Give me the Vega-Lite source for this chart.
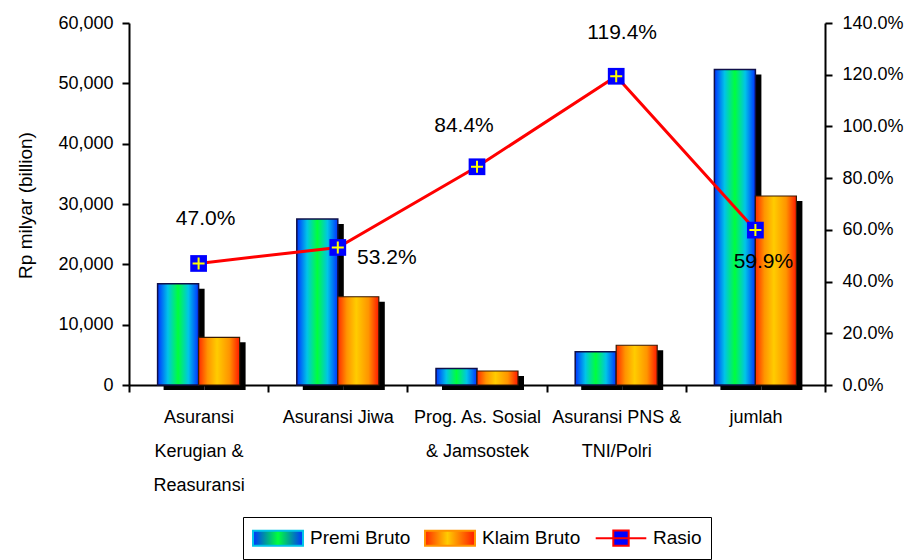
{
  "$schema": "https://vega.github.io/schema/vega-lite/v6.json",
  "autosize": {"type": "none"},
  "padding": {"left": 129, "top": 23, "right": 91, "bottom": 175},
  "width": 696,
  "height": 362,
  "background": "white",
  "config": {
    "view": {"stroke": null},
    "font": "Liberation Sans",
    "axis": {
      "labelFont": "Liberation Sans",
      "titleFont": "Liberation Sans",
      "labelColor": "black",
      "titleColor": "black",
      "domainColor": "black",
      "tickColor": "black",
      "domainWidth": 2,
      "tickWidth": 2,
      "tickSize": 7,
      "grid": false,
      "labelFontSize": 18,
      "titleFontSize": 19,
      "titleFontWeight": "normal"
    }
  },
  "data": {
    "values": [
      {"kategori": "Asuransi Kerugian & Reasuransi", "premi": 16800, "klaim": 7900, "rasio": 0.470},
      {"kategori": "Asuransi Jiwa", "premi": 27500, "klaim": 14630, "rasio": 0.532},
      {"kategori": "Prog. As. Sosial & Jamsostek", "premi": 2750, "klaim": 2320, "rasio": 0.844},
      {"kategori": "Asuransi PNS & TNI/Polri", "premi": 5520, "klaim": 6590, "rasio": 1.194},
      {"kategori": "jumlah", "premi": 52300, "klaim": 31330, "rasio": 0.599}
    ]
  },
  "layer": [
    {
      "encoding": {
        "x": {
          "field": "kategori",
          "type": "nominal",
          "sort": null,
          "scale": {"type": "band", "paddingInner": 0, "paddingOuter": 0},
          "axis": {
            "title": null,
            "labelAngle": 0,
            "tickBand": "extent",
            "labelBaseline": "top",
            "labelPadding": 16,
            "labelLineHeight": 34,
            "labelLimit": 0,
            "labelExpr": "datum.value == 'Asuransi Kerugian & Reasuransi' ? ['Asuransi', 'Kerugian &', 'Reasuransi'] : datum.value == 'Prog. As. Sosial & Jamsostek' ? ['Prog. As. Sosial', '& Jamsostek'] : datum.value == 'Asuransi PNS & TNI/Polri' ? ['Asuransi PNS &', 'TNI/Polri'] : datum.value"
          }
        }
      },
      "layer": [
        {
          "mark": {"type": "bar", "width": 41, "xOffset": -14.5, "yOffset": 5, "color": "black"},
          "encoding": {
            "y": {
              "field": "premi",
              "type": "quantitative",
              "scale": {"domain": [0, 60000], "nice": false},
              "axis": {
                "title": "Rp milyar (billion)",
                "values": [0, 10000, 20000, 30000, 40000, 50000, 60000],
                "format": ",.0f",
                "titleX": -94,
                "titleY": 182,
                "labelPadding": 9
              }
            }
          }
        },
        {
          "mark": {"type": "bar", "width": 41, "xOffset": 26.5, "yOffset": 5, "color": "black"},
          "encoding": {"y": {"field": "klaim", "type": "quantitative"}}
        },
        {
          "mark": {
            "type": "bar",
            "width": 41,
            "xOffset": -20.5,
            "stroke": "#10104a",
            "strokeWidth": 1.5,
            "fill": {
              "gradient": "linear",
              "x1": 0, "x2": 1, "y1": 0, "y2": 0,
              "stops": [
                {"offset": 0, "color": "#0033ff"},
                {"offset": 0.25, "color": "#00c4e8"},
                {"offset": 0.5, "color": "#00ff3c"},
                {"offset": 0.75, "color": "#00c4e8"},
                {"offset": 1, "color": "#0033ff"}
              ]
            }
          },
          "encoding": {"y": {"field": "premi", "type": "quantitative"}}
        },
        {
          "mark": {
            "type": "bar",
            "width": 41,
            "xOffset": 20.5,
            "stroke": "#3a1a00",
            "strokeWidth": 1.2,
            "fill": {
              "gradient": "linear",
              "x1": 0, "x2": 1, "y1": 0, "y2": 0,
              "stops": [
                {"offset": 0, "color": "#ff2a00"},
                {"offset": 0.22, "color": "#ff9400"},
                {"offset": 0.45, "color": "#ffcc00"},
                {"offset": 0.75, "color": "#ff9400"},
                {"offset": 1, "color": "#ff1a00"}
              ]
            }
          },
          "encoding": {"y": {"field": "klaim", "type": "quantitative"}}
        }
      ]
    },
    {
      "encoding": {
        "x": {"field": "kategori", "type": "nominal", "sort": null},
        "y": {
          "field": "rasio",
          "type": "quantitative",
          "scale": {"domain": [0, 1.4], "nice": false},
          "axis": {
            "orient": "right",
            "title": null,
            "values": [0, 0.2, 0.4, 0.6, 0.8, 1.0, 1.2, 1.4],
            "format": ".1%",
            "labelPadding": 10
          }
        }
      },
      "layer": [
        {
          "mark": {"type": "line", "strokeWidth": 3},
          "encoding": {
            "stroke": {
              "datum": "Rasio",
              "scale": {"domain": ["Premi Bruto", "Klaim Bruto", "Rasio"], "range": ["#00c4e8", "#ff9400", "#ff0000"]},
              "legend": {
                "title": null,
                "orient": "none",
                "legendX": 114,
                "legendY": 494,
                "direction": "horizontal",
                "strokeColor": "black",
                "fillColor": "white",
                "padding": 9,
                "labelFont": "Liberation Sans",
                "labelFontSize": 19,
                "labelColor": "black",
                "labelOffset": 20,
                "symbolOffset": 14,
                "columnPadding": 10,
                "symbolSize": 484,
                "symbolStrokeWidth": 2,
                "symbolType": "M-2.27,-0.68H2.27V0.68H-2.27Z",
                "encode": {
                  "symbols": {
                    "update": {
                      "shape": [
                        {"test": "datum.value === 'Rasio'", "value": "M-2.3,0H2.3M-0.7,-0.7H0.7V0.7H-0.7Z"},
                        {"value": "M-2.27,-0.68H2.27V0.68H-2.27Z"}
                      ],
                      "fill": [
                        {"test": "datum.value === 'Rasio'", "value": "#0000ff"},
                        {"test": "datum.value === 'Premi Bruto'", "value": {"gradient": "linear", "x1": 0, "x2": 1, "y1": 0, "y2": 0, "stops": [{"offset": 0, "color": "#0033ff"}, {"offset": 0.5, "color": "#00ff3c"}, {"offset": 1, "color": "#0033ff"}]}},
                        {"value": {"gradient": "linear", "x1": 0, "x2": 1, "y1": 0, "y2": 0, "stops": [{"offset": 0, "color": "#ff2a00"}, {"offset": 0.45, "color": "#ffcc00"}, {"offset": 1, "color": "#ff1a00"}]}}
                      ],
                      "fillOpacity": {"value": 1},
                      "stroke": [
                        {"test": "datum.value === 'Rasio'", "value": "#ff0000"},
                        {"value": "#111111"}
                      ],
                      "opacity": {"value": 1}
                    }
                  }
                }
              }
            }
          }
        },
        {
          "mark": {"type": "point", "shape": "square", "filled": true, "color": "#0000ff", "size": 280, "opacity": 1}
        },
        {
          "mark": {"type": "point", "shape": "M-1,0H1M0,-1V1", "filled": false, "stroke": "#ffff00", "strokeWidth": 2, "size": 144, "opacity": 1}
        },
        {
          "transform": [{"filter": "datum.kategori == 'Asuransi Kerugian & Reasuransi'"}],
          "mark": {"type": "text", "fontSize": 21, "font": "Liberation Sans", "color": "black", "dx": 7, "dy": -44},
          "encoding": {"text": {"field": "rasio", "type": "quantitative", "format": ".1%"}}
        },
        {
          "transform": [{"filter": "datum.kategori == 'Asuransi Jiwa'"}],
          "mark": {"type": "text", "fontSize": 21, "font": "Liberation Sans", "color": "black", "dx": 49, "dy": 11},
          "encoding": {"text": {"field": "rasio", "type": "quantitative", "format": ".1%"}}
        },
        {
          "transform": [{"filter": "datum.kategori == 'Prog. As. Sosial & Jamsostek'"}],
          "mark": {"type": "text", "fontSize": 21, "font": "Liberation Sans", "color": "black", "dx": -13, "dy": -41},
          "encoding": {"text": {"field": "rasio", "type": "quantitative", "format": ".1%"}}
        },
        {
          "transform": [{"filter": "datum.kategori == 'Asuransi PNS & TNI/Polri'"}],
          "mark": {"type": "text", "fontSize": 21, "font": "Liberation Sans", "color": "black", "dx": 6, "dy": -43},
          "encoding": {"text": {"field": "rasio", "type": "quantitative", "format": ".1%"}}
        },
        {
          "transform": [{"filter": "datum.kategori == 'jumlah'"}],
          "mark": {"type": "text", "fontSize": 21, "font": "Liberation Sans", "color": "black", "dx": 8, "dy": 32},
          "encoding": {"text": {"field": "rasio", "type": "quantitative", "format": ".1%"}}
        }
      ]
    }
  ],
  "resolve": {"scale": {"y": "independent"}}
}
